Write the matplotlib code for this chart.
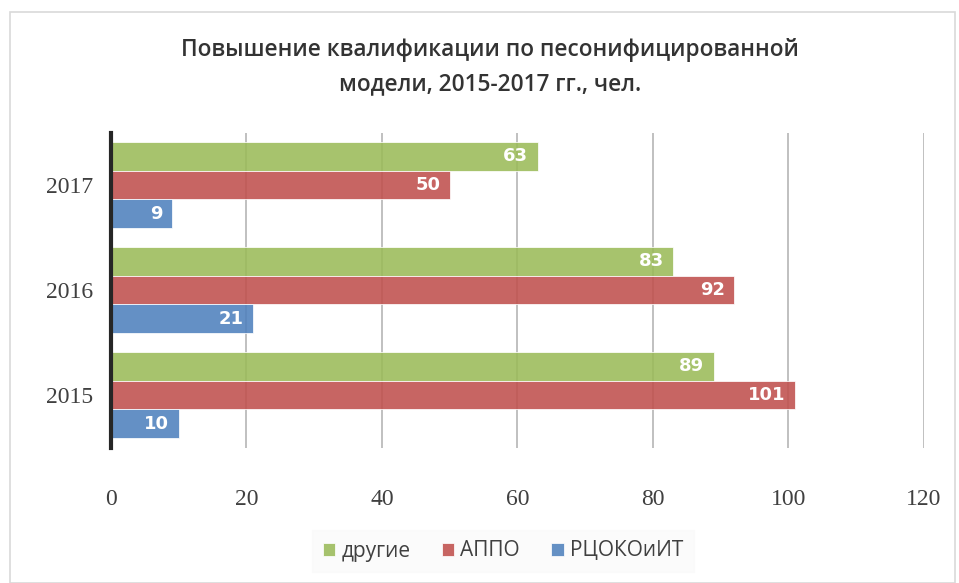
import matplotlib
matplotlib.use("Agg")
import matplotlib.pyplot as plt
from matplotlib.patches import Rectangle
import numpy as np

years = ["2015", "2016", "2017"]
series_names = ["другие", "АППО", "РЦОКОиИТ"]
drugie = [89, 83, 63]
appo = [101, 92, 50]
rcoko = [10, 21, 9]
colors = ["#9BBB59", "#C0504D", "#4F81BD"]
xticks = [0, 20, 40, 60, 80, 100, 120]

fig = plt.figure(figsize=(9.59, 5.83), dpi=100)
fig.patches.append(Rectangle((10/959, 0), 945/959, 1 - 12/583, transform=fig.transFigure,
                             fill=False, edgecolor="#D9D9D9", linewidth=1.2))
ax = fig.add_axes([111/959, 1 - 447.5/583, 813/959, 315/583])

y = np.arange(len(years))
h = 0.272
offsets = [h, 0, -h]
data = [drugie, appo, rcoko]
for vals, off, col, name in zip(data, offsets, colors, series_names):
    bars = ax.barh(y + off, vals, height=h, color=col, alpha=0.88, label=name,
                   zorder=2, edgecolor="white", linewidth=0.6)
    for b, v in zip(bars, vals):
        ax.text(v - 1.4, b.get_y() + b.get_height()/2, str(v), ha="right", va="center",
                color="white", fontsize=13, fontweight="bold", zorder=3,
                family="DejaVu Sans")

ax.set_xlim(0, 120)
ax.set_ylim(-0.5, 2.5)
ax.set_xticks(xticks)
ax.set_xticklabels([str(t) for t in xticks], family="Liberation Serif", fontsize=17, color="#404040")
ax.set_yticks(y)
ax.set_yticklabels(years, family="Liberation Serif", fontsize=17, color="#404040")
ax.tick_params(axis="both", length=0)
ax.tick_params(axis="x", pad=30)
ax.tick_params(axis="y", pad=13)
for t in xticks[1:]:
    ax.axvline(t, color="#B5B5B5", linewidth=1.2, zorder=1)
for s in ["top", "right", "bottom"]:
    ax.spines[s].set_visible(False)
ax.spines["left"].set_color("#262626")
ax.spines["left"].set_linewidth(3)
ax.spines["left"].set_zorder(4)

title_kw = dict(ha="center", va="center", fontsize=16.3, color="#333333",
                family="Open Sans", fontweight="semibold")
fig.text(490/959, 1 - 50/583, "Повышение квалификации по песонифицированной", **title_kw)
fig.text(490/959, 1 - 84/583, "модели, 2015-2017 гг., чел.", **title_kw)

leg = fig.legend(loc="center", bbox_to_anchor=(503/959, 1 - 551/583), ncol=3,
                 frameon=True, handlelength=0.6, handleheight=0.6,
                 handletextpad=0.3, columnspacing=1.5,
                 prop={"family": "Open Sans", "size": 15})
leg.get_frame().set_facecolor("#FAFAFA")
leg.get_frame().set_edgecolor("#FAFAFA")
leg.get_frame().set_boxstyle("square", pad=0.1)
for txt in leg.get_texts():
    txt.set_color("#404040")

fig.savefig("out.png", dpi=100)
